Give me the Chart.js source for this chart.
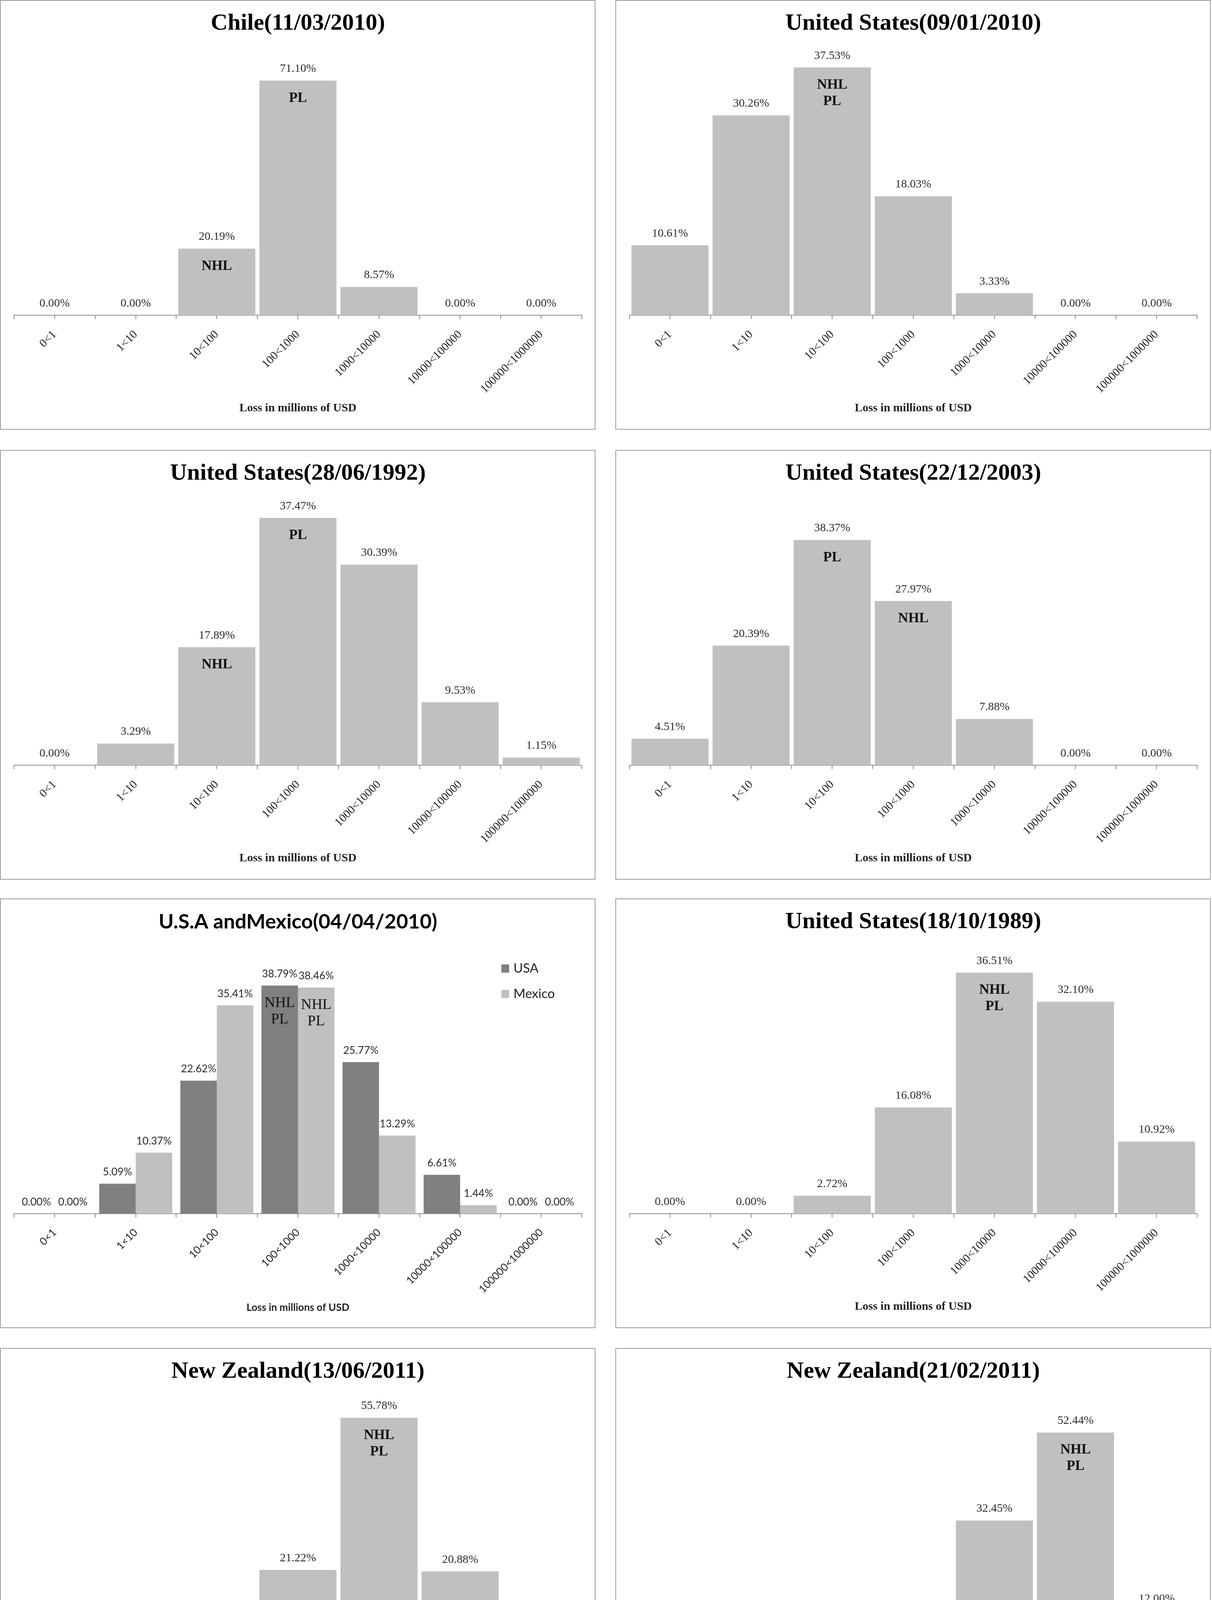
<!DOCTYPE html>
<html>
<head>
<meta charset="utf-8">
<title>Loss in millions of USD</title>
<script src="https://cdn.jsdelivr.net/npm/chart.js@4.4.1/dist/chart.umd.min.js"></script>
<style>
    body { margin: 0; background: #fff; }
    #page { position: relative; width: 3104px; height: 5704px; background: #fff; }
    .panel { position: absolute; width: 1521px; height: 1096px; border: 2px solid #9a9a9a; background: #fff; }
    .panel canvas { display: block; }
</style>
</head>
<body>
<div id="page"></div>
<script>
// loss classes, in millions of USD
const categories = ['0<1', '1<10', '10<100', '100<1000', '1000<10000', '10000<100000', '100000<1000000'];
const axisTitle = 'Loss in millions of USD';

const titles = [
    'Chile(11/03/2010)',
    'United States(09/01/2010)',
    'United States(28/06/1992)',
    'United States(22/12/2003)',
    'U.S.A andMexico(04/04/2010)',
    'United States(18/10/1989)',
    'New Zealand(13/06/2011)',
    'New Zealand(21/02/2011)',
    'United States(17/01/1994)',
    'Japan(11/03/2011)'
];

const chileValues = [0, 0, 20.19, 71.10, 8.57, 0, 0];
const chileNotes = ['', '', 'NHL', 'PL', '', '', ''];
const us2010Values = [10.61, 30.26, 37.53, 18.03, 3.33, 0, 0];
const us2010Notes = ['', '', 'NHL\nPL', '', '', '', ''];
const us1992Values = [0, 3.29, 17.89, 37.47, 30.39, 9.53, 1.15];
const us1992Notes = ['', '', 'NHL', 'PL', '', '', ''];
const us2003Values = [4.51, 20.39, 38.37, 27.97, 7.88, 0, 0];
const us2003Notes = ['', '', 'PL', 'NHL', '', '', ''];
const usaValues = [0, 5.09, 22.62, 38.79, 25.77, 6.61, 0];
const usaNotes = ['', '', '', 'NHL\nPL', '', '', ''];
const mexicoValues = [0, 10.37, 35.41, 38.46, 13.29, 1.44, 0];
const mexicoNotes = ['', '', '', 'NHL\nPL', '', '', ''];
const us1989Values = [0, 0, 2.72, 16.08, 36.51, 32.10, 10.92];
const us1989Notes = ['', '', '', '', 'NHL\nPL', '', ''];
const nzJuneValues = [0, 0, 1.07, 21.22, 55.78, 20.88, 1.03];
const nzJuneNotes = ['', '', '', '', 'NHL\nPL', '', ''];
const nzFebValues = [0, 0, 0, 2.74, 32.45, 52.44, 12.00];
const nzFebNotes = ['', '', '', '', '', 'NHL\nPL', ''];
const us1994Values = [0, 0, 4.06, 20.08, 38.28, 28.27, 8.07];
const us1994Notes = ['', '', '', '', 'PL', 'NHL', ''];
const japanValues = [0, 0, 2.37, 19.17, 43.83, 28.84, 5.42];
const japanNotes = ['', '', '', '', 'PL', 'NHL', ''];

const seriesNames = ['USA', 'Mexico'];
// value axis tops, as in the original (Excel auto scale)
const yMaxes = [80, 40, 40, 45, 45, 40, 60, 60, 45, 50];

const SERIF = "'Liberation Serif', 'DejaVu Serif', serif";
const SANS = "Lato, 'Liberation Sans', sans-serif";
const LIGHT = '#c0c0c0';
const DARK = '#808080';
const AXIS_GREY = '#8c8c8c';

const specs = [
    { series: [{ values: chileValues, notes: chileNotes }] },
    { series: [{ values: us2010Values, notes: us2010Notes }] },
    { series: [{ values: us1992Values, notes: us1992Notes }] },
    { series: [{ values: us2003Values, notes: us2003Notes }] },
    {
        sans: true,
        series: [
            { name: seriesNames[0], values: usaValues, notes: usaNotes, color: DARK },
            { name: seriesNames[1], values: mexicoValues, notes: mexicoNotes, color: LIGHT }
        ]
    },
    { series: [{ values: us1989Values, notes: us1989Notes }] },
    { series: [{ values: nzJuneValues, notes: nzJuneNotes }] },
    { series: [{ values: nzFebValues, notes: nzFebNotes }] },
    { series: [{ values: us1994Values, notes: us1994Notes }] },
    { series: [{ values: japanValues, notes: japanNotes }] }
];

const panelLefts = [0, 1576];
const panelTops = [0, 1152, 2300, 3451, 4600];

// percentage above each bar, NHL / PL marks inside it
const barLabels = {
    id: 'barLabels',
    afterDatasetsDraw(chart, args, opts) {
        const ctx = chart.ctx;
        ctx.save();
        ctx.textAlign = 'center';
        ctx.textBaseline = 'middle';
        chart.data.datasets.forEach((ds, di) => {
            const meta = chart.getDatasetMeta(di);
            meta.data.forEach((bar, i) => {
                ctx.font = opts.valueFont;
                ctx.fillStyle = '#2b2b2b';
                ctx.fillText(ds.data[i].toFixed(2) + '%', bar.x, bar.y - 30);
                const note = ds.notes[i];
                if (note) {
                    ctx.font = opts.noteFont;
                    ctx.fillStyle = '#111';
                    note.split('\n').forEach((line, k) => {
                        ctx.fillText(line, bar.x, bar.y + 45 + k * 42);
                    });
                }
            });
        });
        ctx.restore();
    }
};

// small ticks under the middle of every class
const midTicks = {
    id: 'midTicks',
    afterDraw(chart) {
        const x = chart.scales.x;
        const ctx = chart.ctx;
        ctx.save();
        ctx.strokeStyle = AXIS_GREY;
        ctx.lineWidth = 2;
        ctx.beginPath();
        categories.forEach((_, i) => {
            const px = Math.round(x.getPixelForTick(i));
            ctx.moveTo(px, x.top);
            ctx.lineTo(px, x.top + 10);
        });
        ctx.stroke();
        ctx.restore();
    }
};

// legend drawn over the top right of the plot, one entry per line
const seriesKey = {
    id: 'seriesKey',
    afterDraw(chart, args, opts) {
        if (!opts.show) return;
        const ctx = chart.ctx;
        ctx.save();
        ctx.font = `33px ${SANS}`;
        ctx.textBaseline = 'middle';
        ctx.textAlign = 'left';
        chart.data.datasets.forEach((ds, i) => {
            const y = opts.y + i * opts.step;
            ctx.fillStyle = ds.backgroundColor;
            ctx.fillRect(opts.x, y - 10, 20, 21);
            ctx.fillStyle = '#222';
            ctx.fillText(ds.label, opts.x + 31, y);
        });
        ctx.restore();
    }
};

function buildChart(canvas, spec, title, yMax) {
    const family = spec.sans ? SANS : SERIF;
    const grouped = spec.series.length > 1;
    const datasets = spec.series.map(s => ({
        label: s.name || '',
        data: s.values,
        notes: s.notes,
        backgroundColor: s.color || LIGHT,
        borderWidth: 0,
        barPercentage: grouped ? 1.0 : 0.95,
        categoryPercentage: grouped ? 0.9 : 1.0
    }));

    return new Chart(canvas.getContext('2d'), {
        type: 'bar',
        data: { labels: categories, datasets },
        options: {
            responsive: false,
            animation: false,
            devicePixelRatio: 1,
            layout: { padding: { left: 34, right: 33, top: 0, bottom: 0 } },
            plugins: {
                legend: { display: false },
                tooltip: { enabled: false },
                title: {
                    display: true,
                    text: title,
                    color: '#000',
                    font: spec.sans
                        ? { family: SANS, size: 52, weight: 'bold', lineHeight: 1.2 }
                        : { family: SERIF, size: 60, weight: 'bold', lineHeight: 1.2 },
                    padding: spec.sans ? { top: 27, bottom: 38 } : { top: 22, bottom: 35 }
                },
                barLabels: {
                    valueFont: spec.sans ? `27px ${SANS}` : `30px ${SERIF}`,
                    noteFont: spec.sans ? `38px ${SERIF}` : `bold 36px ${SERIF}`
                },
                seriesKey: { show: grouped, x: 1282, y: 177, step: 65 }
            },
            scales: {
                x: {
                    offset: true,
                    afterFit(scale) { scale.height = 291; },
                    grid: {
                        display: true,
                        offset: true,
                        drawOnChartArea: false,
                        drawTicks: true,
                        tickLength: 10,
                        color: AXIS_GREY,
                        lineWidth: 2
                    },
                    border: { display: true, color: AXIS_GREY, width: 2 },
                    ticks: {
                        autoSkip: false,
                        minRotation: 45,
                        maxRotation: 45,
                        padding: 22,
                        color: '#222',
                        font: { family, size: spec.sans ? 27 : 30 }
                    },
                    title: {
                        display: true,
                        text: axisTitle,
                        color: '#222',
                        font: { family, size: spec.sans ? 26 : 30, weight: 'bold', lineHeight: 1.2 },
                        padding: { top: 0, bottom: 35 }
                    }
                },
                y: { display: false, min: 0, max: yMax }
            }
        },
        plugins: [barLabels, midTicks, seriesKey]
    });
}

const page = document.getElementById('page');
specs.forEach((spec, k) => {
    const panel = document.createElement('div');
    panel.className = 'panel';
    panel.style.left = panelLefts[k % 2] + 'px';
    panel.style.top = panelTops[Math.floor(k / 2)] + 'px';
    const canvas = document.createElement('canvas');
    canvas.width = 1521;
    canvas.height = 1096;
    panel.appendChild(canvas);
    page.appendChild(panel);
    buildChart(canvas, spec, titles[k], yMaxes[k]);
});
</script>
</body>
</html>
